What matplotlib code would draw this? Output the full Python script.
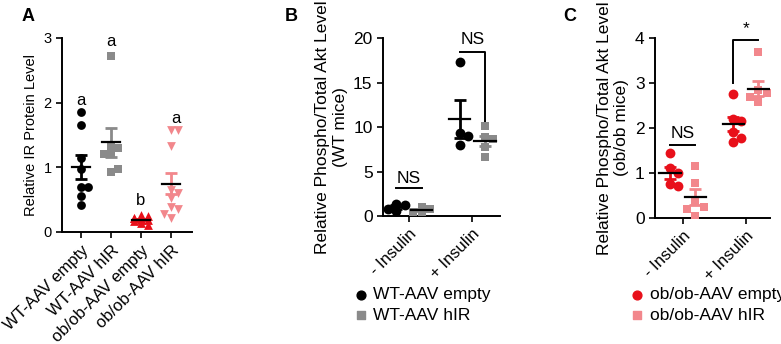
import numpy as np
import matplotlib
matplotlib.use("Agg")
import matplotlib.pyplot as plt

plt.rcParams['font.family'] = ['Liberation Sans', 'DejaVu Sans']
plt.rcParams['font.size'] = 10

# Panel A data
a_groups = ['WT-AAV empty', 'WT-AAV hIR', 'ob/ob-AAV empty', 'ob/ob-AAV hIR']
a_wt_empty = [1.86, 1.65, 1.15, 0.98, 0.70, 0.70, 0.55, 0.41]
a_wt_hir = [2.72, 1.35, 1.30, 1.22, 1.20, 0.93, 0.97]
a_ob_empty = [0.26, 0.24, 0.22, 0.20, 0.19, 0.17, 0.14, 0.11, 0.22, 0.18]
a_ob_hir = [1.58, 1.57, 1.33, 0.65, 0.60, 0.52, 0.38, 0.36, 0.28, 0.22]
a_letters = ['a', 'a', 'b', 'a']

# Panel B data (WT mice)
b_cats = ['- Insulin', '+ Insulin']
b_empty = [[1.4, 1.2, 0.8, 0.6], [17.3, 9.3, 9.0, 8.0]]
b_hir = [[1.0, 0.8, 0.5, 0.4], [10.1, 8.9, 8.6, 7.8, 6.6]]

# Panel C data (ob/ob mice)
c_cats = ['- Insulin', '+ Insulin']
c_empty = [[1.44, 1.12, 1.00, 0.75, 0.70], [2.75, 2.20, 2.15, 1.92, 1.78, 1.68]]
c_hir = [[1.15, 0.78, 0.35, 0.25, 0.20, 0.05], [3.70, 2.85, 2.78, 2.70, 2.62, 2.58]]

BLACK = '#000000'
GRAY = '#8a8a8a'
RED = '#e8101a'
PINK = '#f2878c'


def swarm(vals, ystep, xstep):
    # spread close values over three columns (centre, right, left)
    placed = []
    xs = []
    for v in vals:
        best, best_n = 0, None
        for s in (0, 1, -1):
            n = sum(1 for pv, ps in placed if ps == s and abs(v - pv) < ystep)
            if best_n is None or n < best_n:
                best, best_n = s, n
        placed.append((v, best))
        xs.append(best * xstep)
    return np.array(xs)


def style_axis(ax, size):
    ax.spines['top'].set_visible(False)
    ax.spines['right'].set_visible(False)
    ax.spines['left'].set_linewidth(1.4)
    ax.spines['bottom'].set_linewidth(1.4)
    ax.tick_params(width=1.2, length=4, labelsize=size)
    for lab in ax.get_xticklabels():
        lab.set_fontsize(12)


def group(ax, x0, vals, color, marker, ms, ystep, xstep, meancolor='black', hw=0.17):
    vals = np.array(vals)
    xs = x0 + swarm(vals, ystep, xstep)
    ax.scatter(xs, vals, s=ms, marker=marker, color=color, zorder=3, linewidths=0)
    m = vals.mean()
    se = vals.std(ddof=1) / np.sqrt(len(vals))
    ax.errorbar([x0], [m], yerr=[se], color=color, capsize=4, elinewidth=2,
                capthick=2, zorder=4)
    ax.plot([x0 - hw, x0 + hw], [m, m], color=meancolor, lw=1.6, zorder=5)


fig = plt.figure(figsize=(7.81, 3.44), dpi=100)

# ---- Panel A
axA = fig.add_axes([0.0794, 0.3256, 0.1664, 0.5640])
colors = [BLACK, GRAY, RED, PINK]
markers = ['o', 's', '^', 'v']
data_a = [a_wt_empty, a_wt_hir, a_ob_empty, a_ob_hir]
for i, (vals, c, mk) in enumerate(zip(data_a, colors, markers)):
    group(axA, i, vals, c, mk, 40, 0.12, 0.22, hw=0.3)
letter_y = [2.03, 2.95, 0.48, 1.75]
letter_x = [0, 0, 0, 0.15]
for i, (lt, ly, lx) in enumerate(zip(a_letters, letter_y, letter_x)):
    axA.text(i + lx, ly, lt, ha='center', va='center', fontsize=12)
axA.set_xlim(-0.63, 3.7)
axA.set_ylim(0, 3)
axA.set_yticks([0, 1, 2, 3])
axA.set_xticks(range(4))
axA.set_xticklabels(a_groups, rotation=45, ha='right', rotation_mode='anchor')
axA.set_ylabel('Relative IR Protein Level', fontsize=10.5)
style_axis(axA, 10.5)
fig.text(0.028, 0.94, 'A', fontsize=13, fontweight='bold')

# ---- Panel B
axB = fig.add_axes([0.4904, 0.3721, 0.150, 0.5174])
for i in range(2):
    group(axB, i - 0.2, b_empty[i], BLACK, 'o', 50, 1.0, 0.13)
    group(axB, i + 0.2, b_hir[i], GRAY, 's', 40, 1.0, 0.13)
axB.plot([-0.2, 0.2], [3.1, 3.1], color='black', lw=1.4)
axB.text(0.0, 3.4, 'NS', ha='center', va='bottom', fontsize=12.5)
axB.plot([0.8, 1.2, 1.2], [18.4, 18.4, 10.3], color='black', lw=1.4)
axB.text(1.0, 19.0, 'NS', ha='center', va='bottom', fontsize=12.5)
axB.set_xlim(-0.41, 1.44)
axB.set_ylim(0, 20)
axB.set_yticks([0, 5, 10, 15, 20])
axB.set_xticks([0, 1])
axB.set_xticklabels(b_cats, rotation=45, ha='right', rotation_mode='anchor')
axB.set_ylabel('Relative Phospho/Total Akt Level\n(WT mice)', fontsize=12.5)
style_axis(axB, 12.5)
fig.text(0.365, 0.94, 'B', fontsize=13, fontweight='bold')
axB.scatter([], [], color=BLACK, marker='o', s=40, label='WT-AAV empty')
axB.scatter([], [], color=GRAY, marker='s', s=40, label='WT-AAV hIR')
hB, lB = axB.get_legend_handles_labels()
fig.legend(hB[-2:], lB[-2:], loc='upper left', bbox_to_anchor=(0.44, 0.19),
           frameon=False, fontsize=12.5, handletextpad=0.2, labelspacing=0.3,
           handlelength=1.0, borderpad=0)

# ---- Panel C
axC = fig.add_axes([0.8387, 0.3663, 0.147, 0.5232])
for i in range(2):
    group(axC, i - 0.2, c_empty[i], RED, 'o', 50, 0.2, 0.13)
    group(axC, i + 0.2, c_hir[i], PINK, 's', 40, 0.2, 0.13)
axC.plot([-0.2, 0.2], [1.62, 1.62], color='black', lw=1.4)
axC.text(0.0, 1.72, 'NS', ha='center', va='bottom', fontsize=12.5)
axC.plot([0.8, 0.8, 1.2], [3.0, 3.95, 3.95], color='black', lw=1.4)
axC.text(1.0, 4.05, '*', ha='center', va='bottom', fontsize=12.5)
axC.set_xlim(-0.44, 1.38)
axC.set_ylim(0, 4)
axC.set_yticks([0, 1, 2, 3, 4])
axC.set_xticks([0, 1])
axC.set_xticklabels(c_cats, rotation=45, ha='right', rotation_mode='anchor')
axC.set_ylabel('Relative Phospho/Total Akt Level\n(ob/ob mice)', fontsize=12.5)
style_axis(axC, 12.5)
fig.text(0.721, 0.94, 'C', fontsize=13, fontweight='bold')
axC.scatter([], [], color=RED, marker='o', s=40, label='ob/ob-AAV empty')
axC.scatter([], [], color=PINK, marker='s', s=40, label='ob/ob-AAV hIR')
hC, lC = axC.get_legend_handles_labels()
fig.legend(hC[-2:], lC[-2:], loc='upper left', bbox_to_anchor=(0.794, 0.19),
           frameon=False, fontsize=12.5, handletextpad=0.2, labelspacing=0.3,
           handlelength=1.0, borderpad=0)

fig.savefig('out.png', dpi=100)
